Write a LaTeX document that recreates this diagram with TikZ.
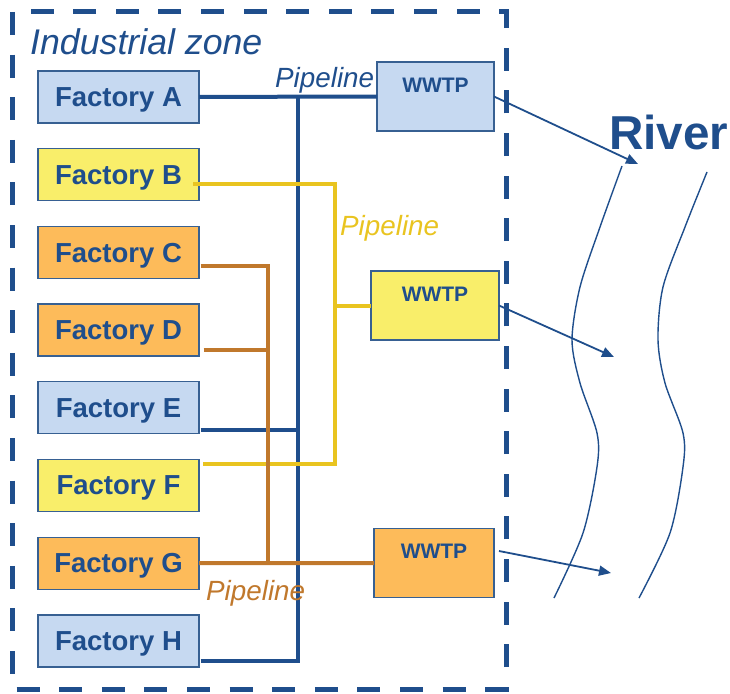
\documentclass[tikz,border=0pt]{standalone}
\usepackage{fontspec}
\setmainfont{Liberation Sans}
\usetikzlibrary{positioning, arrows.meta, calc}
\definecolor{zoneblue}{RGB}{31,78,140}
\definecolor{boxedge}{RGB}{55,96,146}
\definecolor{fillblue}{RGB}{198,217,241}
\definecolor{fillyellow}{RGB}{249,238,106}
\definecolor{fillorange}{RGB}{253,187,90}
\definecolor{pipeyellow}{RGB}{233,196,32}
\definecolor{pipeorange}{RGB}{192,120,44}
\tikzset{
  factory/.style={
    draw=boxedge, line width=1.3pt, inner sep=0pt, outer sep=0pt,
    minimum width=161pt, minimum height=52pt, text depth=0pt,
    text=zoneblue, font=\fontsize{27.5}{30}\selectfont\bfseries
  },
  % treatment plant: text sits at the top of the box
  wwtp/.style={
    draw=boxedge, line width=1.3pt, inner xsep=0pt, inner ysep=0pt, outer sep=0pt,
    minimum height=69pt, text height=30pt, text depth=39pt,
    text=zoneblue, font=\fontsize{21}{23}\selectfont\bfseries
  },
  % pipelines
  pipe/.style={line width=4pt},
  pipelabel/.style={anchor=base west, inner sep=0pt,
    font=\fontsize{27.8}{30}\selectfont\itshape},
  % discharge into the river
  flow/.style={-{Triangle[length=12pt, width=10pt]}, draw=zoneblue, line width=1.8pt},
  riverbank/.style={draw=zoneblue, line width=1.4pt},
}

\begin{document}
\begin{tikzpicture}[x=1pt, y=-1pt, node distance=25.7pt]
  \useasboundingbox (0,0) rectangle (730,693);

  %% ── Industrial zone ──
  \draw[zoneblue, line width=5pt, dash pattern=on 23pt off 19.6pt]
    (12,12) rectangle (506,689);
  \node[pipelabel, text=zoneblue, font=\fontsize{35.7}{38}\selectfont\itshape]
    (zone) at (30,55) {Industrial zone};

  %% ── Factories ──
  \node[factory, fill=fillblue] (fA) at (118.5,97) {Factory A};
  \node[factory, fill=fillyellow, below=of fA] (fB) {Factory B};
  \node[factory, fill=fillorange, below=of fB] (fC) {Factory C};
  \node[factory, fill=fillorange, below=of fC] (fD) {Factory D};
  \node[factory, fill=fillblue,   below=of fD] (fE) {Factory E};
  \node[factory, fill=fillyellow, below=of fE] (fF) {Factory F};
  \node[factory, fill=fillorange, below=of fF] (fG) {Factory G};
  \node[factory, fill=fillblue,   below=of fG] (fH) {Factory H};

  %% ── Treatment plants ──
  \node[wwtp, fill=fillblue,   minimum width=117pt] (wA) at (435.5,96.5) {WWTP};
  \node[wwtp, fill=fillyellow, minimum width=128pt] (wB) at (435,305.5)  {WWTP};
  \node[wwtp, fill=fillorange, minimum width=120pt] (wC) at (434,563)    {WWTP};

  %% ── Blue pipeline ──
  \coordinate (bTop) at (298,97);
  \coordinate (eOut) at ($(fE.east)+(1.5,22)$);
  \coordinate (hOut) at ($(fH.east)+(1.5,20)$);
  \draw[pipe, zoneblue] (fA) -- (wA);
  \draw[pipe, zoneblue] (hOut) -| (bTop);
  \draw[pipe, zoneblue] (eOut) -- (eOut -| bTop);
  \node[pipelabel, text=zoneblue] (plA) at (275,87) {Pipeline};

  %% ── Yellow pipeline ──
  \coordinate (yX) at (335,0);
  \coordinate (bOut) at ($(fB.east)+(-6,9)$);
  \coordinate (fOut) at ($(fF.east)+(3.5,-22)$);
  \draw[pipe, pipeyellow] (bOut) -| (yX |- fOut) -- (fOut);
  \draw[pipe, pipeyellow] (wB.west -| yX) -- (wB.west);
  \node[pipelabel, text=pipeyellow] (plB) at (340,235) {Pipeline};

  %% ── Orange pipeline ──
  \coordinate (oX) at (268,0);
  \coordinate (cOut) at ($(fC.east)+(1.5,14)$);
  \coordinate (dOut) at ($(fD.east)+(4.5,20)$);
  \draw[pipe, pipeorange] (cOut) -| (oX |- fG.east);
  \draw[pipe, pipeorange] (dOut) -- (dOut -| oX);
  \draw[pipe, pipeorange] (fG.east) -- (wC.west);
  \node[pipelabel, text=pipeorange] (plC) at (206,600) {Pipeline};

  %% ── River ──
  \node[anchor=base west, inner sep=0pt, text=zoneblue,
        font=\fontsize{47.6}{50}\selectfont\bfseries] (river) at (609,149) {River};
  \draw[riverbank] plot[smooth] coordinates {(622,166) (600,227) (580,287) (572,340)
    (580,383) (597,433) (597,467) (583,533) (554,598)};
  \draw[riverbank] plot[smooth] coordinates {(707,172) (685,227) (663,287) (658,340)
    (665,383) (683,433) (683,467) (670,533) (639,598)};

  %% ── Discharges ──
  \coordinate (rA) at (638,164);
  \coordinate (rB) at (614,357);
  \coordinate (rC) at (611,573);
  \draw[flow] (wA.east) -- (rA);
  \draw[flow] (wB.east) -- (rB);
  \draw[flow] ($(wC.east)+(5,-12)$) -- (rC);

\end{tikzpicture}
\end{document}
